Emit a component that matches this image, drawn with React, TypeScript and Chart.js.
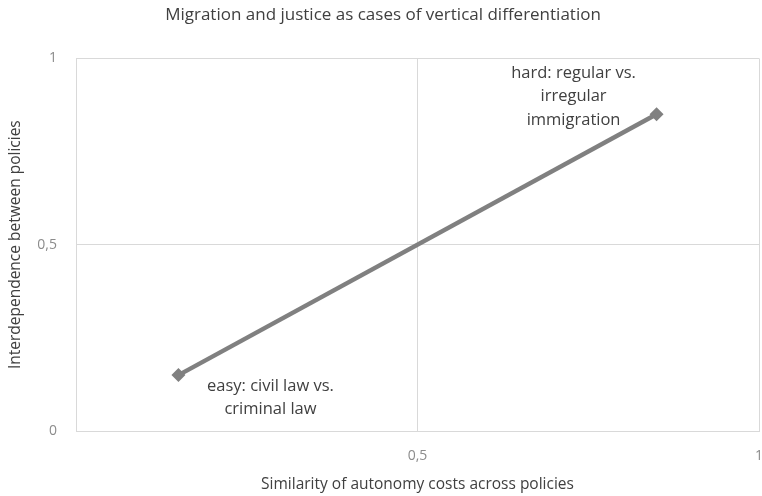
import React, { useEffect, useRef } from "react";
import { Chart, registerables } from "chart.js";

Chart.register(...registerables);

const TITLE = "Migration and justice as cases of vertical differentiation";
const X_TITLE = "Similarity of autonomy costs across policies";
const Y_TITLE = "Interdependence between policies";

const xValues = [0.15, 0.85];
const yValues = [0.15, 0.85];
const pointLabels = [
  ["easy: civil law vs.", "criminal law"],
  ["hard: regular vs.", "irregular", "immigration"],
];
const tickValues = [0, 0.5, 1];

const FONT = "'Open Sans', 'Noto Sans', sans-serif";

const labelPlugin = {
  id: "pointLabels",
  afterDatasetsDraw(chart: any) {
    const { ctx, scales } = chart;
    const xs = scales.x;
    const ys = scales.y;
    ctx.save();
    ctx.font = `16.5px ${FONT}`;
    ctx.fillStyle = "#404040";
    ctx.textAlign = "center";
    ctx.textBaseline = "middle";
    const lineH = 23.5;
    pointLabels.forEach((lines, i) => {
      const px = xs.getPixelForValue(xValues[i]);
      const py = ys.getPixelForValue(yValues[i]);
      let cx: number, top: number;
      if (i === 0) {
        cx = px + 92;
        top = py + 11;
      } else {
        cx = px - 83;
        top = py - 41;
      }
      lines.forEach((t, j) => ctx.fillText(t, cx, top + j * lineH));
    });
    ctx.restore();
  },
};

export default function App() {
  const ref = useRef<HTMLCanvasElement>(null);
  useEffect(() => {
    document.body.style.margin = "0";
    const chart = new Chart(ref.current!, {
      type: "scatter",
      data: {
        datasets: [
          {
            data: xValues.map((x, i) => ({ x, y: yValues[i] })),
            showLine: true,
            borderColor: "#808080",
            backgroundColor: "#808080",
            borderWidth: 4.5,
            pointStyle: "rectRot",
            pointRadius: 7,
            pointBorderWidth: 0,
          },
        ],
      },
      options: {
        responsive: false,
        animation: false,
        layout: { padding: { left: 0, right: 0, top: 0, bottom: 0 } },
        plugins: {
          legend: { display: false },
          tooltip: { enabled: false },
          title: {
            display: true,
            text: TITLE,
            color: "#404040",
            font: { family: FONT, size: 17, weight: "normal" },
            padding: { top: 5, bottom: 33 },
          },
        },
        scales: {
          x: {
            type: "linear",
            min: 0,
            max: 1,
            afterBuildTicks: (s: any) => {
              s.ticks = tickValues.map((v) => ({ value: v }));
            },
            afterFit: (s: any) => {
              s.paddingRight = 0;
              s.paddingLeft = 0;
              s.height = 65;
            },
            ticks: {
              color: "#8c8c8c",
              font: { family: FONT, size: 14 },
              padding: 17,
              maxRotation: 0,
              callback: (v: any) => (v === 0 ? "" : String(v).replace(".", ",")),
            },
            grid: { color: "#d9d9d9", lineWidth: 1, drawTicks: false },
            border: { color: "#d9d9d9", width: 1 },
            title: {
              display: true,
              text: X_TITLE,
              color: "#404040",
              font: { family: FONT, size: 15.5 },
              padding: { top: 10, bottom: 2 },
            },
          },
          y: {
            type: "linear",
            min: 0,
            max: 1,
            afterBuildTicks: (s: any) => {
              s.ticks = tickValues.map((v) => ({ value: v }));
            },
            afterFit: (s: any) => {
              s.width = 76;
            },
            ticks: {
              color: "#8c8c8c",
              font: { family: FONT, size: 14 },
              padding: 19,
              callback: (v: any) => String(v).replace(".", ","),
            },
            grid: { color: "#d9d9d9", lineWidth: 1, drawTicks: false },
            border: { color: "#d9d9d9", width: 1 },
            title: {
              display: true,
              text: Y_TITLE,
              color: "#404040",
              font: { family: FONT, size: 15.5 },
              padding: { top: 6, bottom: 12 },
            },
          },
        },
      },
      plugins: [labelPlugin],
    });
    return () => chart.destroy();
  }, []);
  return (
    <div style={{ width: 762, height: 496, overflow: "hidden" }}>
      <canvas ref={ref} width={766} height={496} style={{ display: "block" }} />
    </div>
  );
}
